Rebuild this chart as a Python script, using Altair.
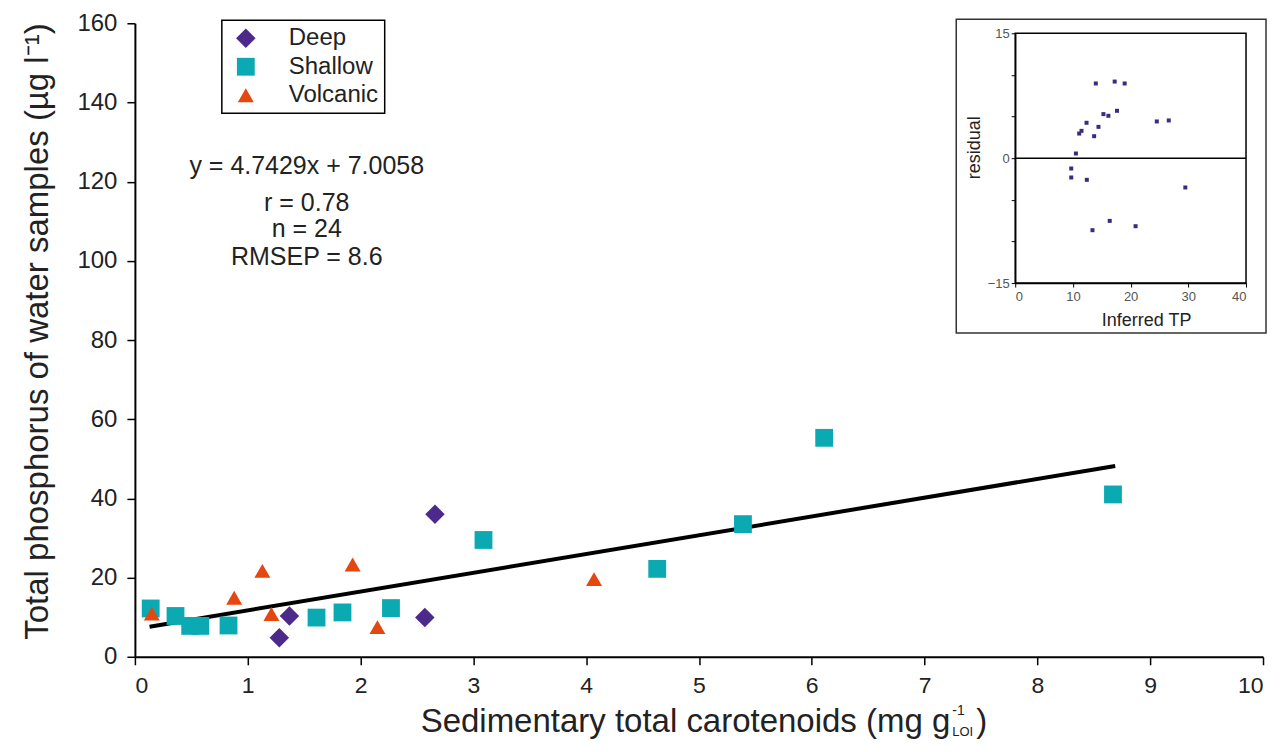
import altair as alt
import pandas as pd

# ---------------- data ----------------
groups = ["Deep", "Shallow", "Volcanic"]
group_colors = ["#4b2a8c", "#0ba9b2", "#e4470f"]
group_shapes = ["diamond", "square", "triangle-up"]
group_sizes = [380, 256, 270]

deep_x = [1.28, 1.37, 2.57, 2.66]
deep_y = [4.8, 10.3, 9.9, 36.0]
shallow_x = [0.14, 0.36, 0.49, 0.58, 0.83, 1.61, 1.84, 2.27, 3.09, 4.63, 5.39, 6.11, 8.67]
shallow_y = [12.2, 10.3, 7.8, 7.8, 7.9, 9.9, 11.2, 12.3, 29.5, 22.2, 33.5, 55.3, 41.0]
volcanic_x = [0.15, 0.88, 1.13, 1.21, 1.93, 2.15, 4.07]
volcanic_y = [10.9, 14.9, 21.7, 10.8, 23.3, 7.5, 19.6]

fit_x = [0.13, 8.69]
fit_y = [7.6, 48.2]

stats_lines = ["y = 4.7429x + 7.0058", "r = 0.78", "n = 24", "RMSEP = 8.6"]

x_ticks = [0, 1, 2, 3, 4, 5, 6, 7, 8, 9, 10]
y_ticks = [0, 20, 40, 60, 80, 100, 120, 140, 160]

inset_tp = [13.97, 17.24, 18.97, 15.29, 16.15, 17.64, 12.36, 14.43, 11.49, 11.09, 13.68,
            24.54, 26.61, 10.52, 9.71, 9.71, 12.41, 29.48, 16.38, 20.86, 13.39]
inset_resid = [8.97, 9.2, 8.97, 5.29, 5.09, 5.69, 4.25, 3.76, 3.28, 2.96, 2.64,
               4.41, 4.53, 0.56, -1.24, -2.32, -2.6, -3.52, -7.53, -8.17, -8.65]
inset_x_ticks = [0, 10, 20, 30, 40]
inset_y_ticks = [-15, -10, -5, 0, 5, 10, 15]

# ---------------- tables ----------------
pts = pd.DataFrame({
    "x": deep_x + shallow_x + volcanic_x,
    "y": deep_y + shallow_y + volcanic_y,
    "type": ["Deep"] * len(deep_x) + ["Shallow"] * len(shallow_x) + ["Volcanic"] * len(volcanic_x),
})
fit = pd.DataFrame({"x": fit_x, "y": fit_y})
inset_df = pd.DataFrame({"tp": inset_tp, "res": inset_resid})
one = pd.DataFrame({"a": [0]})

FONT = "Liberation Sans"
TXT = "#222222"

W, H = 1129, 634

# ---------------- main panel ----------------
x_main = alt.X(
    "x:Q",
    scale=alt.Scale(domain=[0, 10], nice=False, zero=False),
    axis=alt.Axis(values=x_ticks, format="d", title=None, orient="bottom", tickSize=8,
                  labelPadding=10, labelFontSize=23, labelColor=TXT,
                  domainWidth=2, tickWidth=1.5),
)
y_main = alt.Y(
    "y:Q",
    scale=alt.Scale(domain=[0, 160], nice=False),
    axis=alt.Axis(values=y_ticks, format="d", orient="left", tickSize=8, labelPadding=10,
                  labelFontSize=24, labelColor=TXT, domainWidth=2, tickWidth=1.5,
                  title="Total phosphorus of water samples (µg l⁻¹)",
                  titleFontSize=33, titleFontWeight="normal", titleColor=TXT,
                  titleX=-97, titleY=308, titleAngle=270,
                  titleAlign="center", titleBaseline="middle"),
)

legend_spec = dict(title=None, orient="none", legendX=87, legendY=-3,
                   strokeColor="black", fillColor="white",
                   padding=6, symbolOffset=6, labelOffset=31,
                   labelFontSize=24, labelColor=TXT, rowPadding=4.5,
                   symbolSize=150, symbolStrokeWidth=0)

points = alt.Chart(pts).mark_point(filled=True, opacity=1).encode(
    x=x_main,
    y=y_main,
    color=alt.Color("type:N", scale=alt.Scale(domain=groups, range=group_colors),
                    legend=alt.Legend(**legend_spec)),
    shape=alt.Shape("type:N", scale=alt.Scale(domain=groups, range=group_shapes),
                    legend=alt.Legend(**legend_spec)),
    size=alt.Size("type:N", scale=alt.Scale(domain=groups, range=group_sizes), legend=None),
)

line = alt.Chart(fit).mark_line(color="black", strokeWidth=4).encode(x="x:Q", y="y:Q")

stat_y = [143, 180, 206, 234]
stat_layers = [
    alt.Chart(one).mark_text(fontSize=25, font=FONT, color=TXT, align="center", baseline="middle").encode(
        x=alt.value(172), y=alt.value(yy), text=alt.value(s))
    for s, yy in zip(stats_lines, stat_y)
]

xt_main = alt.Chart(one).mark_text(fontSize=33, font=FONT, color=TXT, align="left", baseline="alphabetic").encode(
    x=alt.value(286), y=alt.value(709), text=alt.value("Sedimentary total carotenoids (mg g"))
xt_sup = alt.Chart(one).mark_text(fontSize=14, font=FONT, color=TXT, align="left", baseline="alphabetic").encode(
    x=alt.value(818), y=alt.value(692), text=alt.value("-1"))
xt_sub = alt.Chart(one).mark_text(fontSize=13, font=FONT, color=TXT, align="left", baseline="alphabetic").encode(
    x=alt.value(818), y=alt.value(713), text=alt.value("LOI"))
xt_close = alt.Chart(one).mark_text(fontSize=33, font=FONT, color=TXT, align="left", baseline="alphabetic").encode(
    x=alt.value(842), y=alt.value(709), text=alt.value(")"))

inset_frame = alt.Chart(one).mark_rect(fillOpacity=0, stroke="#333333", strokeWidth=1.5).encode(
    x=alt.value(822), x2=alt.value(1132), y=alt.value(-4), y2=alt.value(310))

main = alt.layer(inset_frame, line, points, *stat_layers, xt_main, xt_sup, xt_sub, xt_close)

# ---------------- inset panel ----------------
x_in = alt.X(
    "tp:Q",
    scale=alt.Scale(domain=[0, 40], range=[881, 1112], nice=False, zero=False),
    axis=alt.Axis(values=inset_x_ticks, format="d", orient="bottom", offset=-374, tickSize=4,
                  labelPadding=3, labelFontSize=13, labelColor="#555555",
                  domainWidth=1.5, tickWidth=1,
                  title="Inferred TP", titleFontSize=18, titleFontWeight="normal",
                  titleColor=TXT, titleX=1012, titleY=37, titleAlign="center",
                  titleBaseline="middle"),
)
y_in = alt.Y(
    "res:Q",
    scale=alt.Scale(domain=[-15, 15], range=[260, 10], nice=False, zero=False),
    axis=alt.Axis(values=inset_y_ticks, format="d", orient="left", offset=-881, tickSize=4,
                  labelPadding=2, labelFontSize=13, labelColor="#555555",
                  labelExpr="abs(datum.value) % 15 == 0 ? datum.label : ''",
                  domainWidth=1.5, tickWidth=1,
                  title="residual", titleFontSize=18, titleFontWeight="normal",
                  titleColor=TXT, titleX=-41, titleY=124, titleAngle=270,
                  titleAlign="center", titleBaseline="middle"),
)

inset_box = alt.Chart(one).mark_rect(fillOpacity=0, stroke="black", strokeWidth=1.5).encode(
    x=alt.datum(0), x2=alt.datum(40), y=alt.datum(-15), y2=alt.datum(15))
zero_rule = alt.Chart(one).mark_rule(color="black", strokeWidth=1.5).encode(
    x=alt.datum(0), x2=alt.datum(40), y=alt.datum(0))
inset_pts = alt.Chart(inset_df).mark_point(filled=True, shape="square", size=16,
                                           color="#3d2a80", opacity=1).encode(x=x_in, y=y_in)

inset = alt.layer(inset_box, zero_rule, inset_pts)

chart = (
    alt.layer(main, inset)
    .resolve_scale(x="independent", y="independent")
    .resolve_axis(x="independent", y="independent")
    .properties(width=W, height=H, autosize="none",
                padding={"left": 127, "top": 15, "right": 10, "bottom": 82})
    .configure_view(stroke=None)
    .configure_axis(grid=False, domainColor="black", tickColor="black", labelFont=FONT, titleFont=FONT)
    .configure_legend(labelFont=FONT, strokeWidth=1.5)
    .configure_text(font=FONT)
)

chart.save("out.html", embed_options={"renderer": "svg", "actions": False})
